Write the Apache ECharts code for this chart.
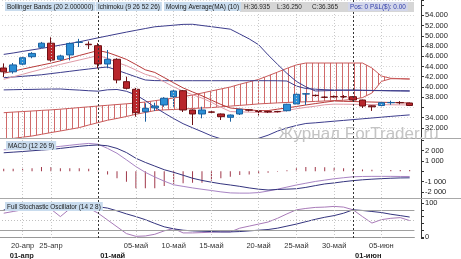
<!DOCTYPE html>
<html><head><meta charset="utf-8">
<script src="https://cdn.jsdelivr.net/npm/echarts@6/dist/echarts.min.js"></script>
<style>html,body{margin:0;padding:0;background:#fff}#c{width:461px;height:259px}</style>
</head><body><div id="c"></div>
<script>
// ---- categories ----
const dates = ['18-апр','19-апр','20-апр','21-апр','24-апр','25-апр','26-апр','27-апр','28-апр','29-апр',
 '01-май','02-май','03-май','04-май','05-май','06-май','08-май','09-май','10-май','11-май','12-май','13-май',
 '15-май','16-май','17-май','18-май','19-май','20-май','22-май','23-май','24-май','25-май','26-май','27-май',
 '29-май','30-май','31-май','01-июн','02-июн','03-июн','05-июн','06-июн','07-июн','08-июн'];
const tickDates = ['20-апр','25-апр','05-май','10-май','15-май','20-май','25-май','30-май','05-июн'];
const monthLabels = {'18-апр':'01-апр','01-май':'01-май','01-июн':'01-июн'};
const monthLines = ['01-май','01-июн'];

// ---- candles ----
const open  = [43.7,42.95,44.45,45.9,47.75,48.55,45.4,46.25,48.7,48.35,48.06,44.48,45.4,41.02,39.53,35.15,35.9,36.46,38.08,39.25,35.48,34.7,35.1,34.7,34.05,34.7,35.5,35.3,35.2,35.2,35.34,36.65,38.6,38.35,38.0,38.1,38.1,38.08,37.43,36.3,36.35,36.9,36.95,36.85];
const close = [42.95,44.3,45.7,46.55,48.55,45.25,46.05,48.5,48.75,48.25,44.48,45.4,41.35,39.72,34.95,35.81,36.25,37.77,39.2,35.48,34.7,35.48,35.05,34.17,34.5,35.62,35.45,35.2,35.1,35.15,36.6,38.55,38.65,38.3,37.95,38.05,38.05,37.43,36.26,36.1,36.91,36.95,36.9,36.365];
const low   = [41.94,42.6,44.2,45.6,47.6,44.93,45.1,45.2,47.8,47.4,43.64,43.64,40.7,39.5,34.17,33.19,35.3,36.1,36.12,35.09,32.54,33.85,34.8,33.52,33.19,34.5,35.2,34.4,34.9,35.0,35.2,36.5,36.46,38.1,37.8,37.9,37.8,37.3,35.87,35.3,36.2,36.5,36.6,36.25];
const high  = [44.6,44.67,45.9,46.8,48.8,49.7,46.3,48.7,49.4,48.9,48.55,47.22,45.6,42.0,39.8,36.79,36.9,38.0,39.5,39.4,35.6,36.12,35.3,34.8,34.6,35.7,35.6,35.5,35.3,35.3,36.7,38.7,38.8,38.5,38.2,38.3,38.4,38.2,37.5,36.4,37.0,37.3,37.2,36.935];

// ---- Bollinger Bands ----
const bbUpper = [46.36,46.63,46.94,47.24,47.53,47.84,48.18,48.49,48.82,49.21,49.6,49.98,50.35,50.72,51.07,51.42,51.76,51.91,52.07,52.23,52.25,52.01,51.78,51.54,51.29,50.35,49.39,48.25,46.26,44.42,42.64,41.07,40.02,39.2,39.25,39.31,39.35,39.39,39.35,39.31,39.29,39.25,39.23,39.2];
const bbMiddle = [41.8,41.93,42.07,42.21,42.37,42.6,42.82,43.05,43.28,43.5,43.72,43.89,43.27,42.62,41.97,41.35,41.23,41.21,41.21,41.21,41.21,41.21,41.21,41.21,41.21,41.21,41.21,41.21,41.21,41.2,41.15,40.17,39.68,39.55,39.45,39.39,39.36,39.33,39.3,39.28,39.26,39.24,39.22,39.2];
const bbLower = [39.41,39.45,39.49,39.51,39.55,39.57,39.59,39.47,39.37,39.25,39.16,39.43,39.49,39.14,38.43,37.32,36.03,34.89,33.8,32.8,32.0,31.23,30.43,29.84,29.41,29.24,29.57,29.94,30.55,31.35,31.96,32.45,32.84,32.97,33.13,33.29,33.44,33.6,33.76,33.91,34.07,34.23,34.38,34.52];

// ---- Ichimoku / MA ----
const tenkan = [42.68,43.07,43.48,43.87,44.26,44.65,45.1,45.61,46.14,46.63,47.12,46.73,46.08,45.38,44.38,43.34,42.83,41.82,40.8,39.8,39.02,38.26,37.41,36.57,35.87,35.69,35.52,35.34,35.36,35.64,35.89,36.16,36.46,36.73,36.99,37.24,37.18,37.14,37.08,37.04,36.99,36.95,36.89,36.85];
const ma10 = [41.48,41.97,42.46,42.97,43.44,43.93,44.4,44.83,45.26,45.69,46.14,45.59,44.77,44.15,43.3,42.46,41.93,41.0,40.0,39.16,38.47,37.81,36.99,36.03,35.17,35.11,35.07,35.01,34.97,35.05,35.38,35.73,35.99,36.22,36.5,36.63,36.61,36.59,36.57,36.53,36.52,36.5,36.48,36.46];
const cloudTop = [34.95,35.07,35.17,35.28,35.4,35.5,35.64,35.79,35.95,36.1,36.26,36.4,36.55,36.69,36.85,37.04,37.3,37.55,37.83,38.1,38.41,38.8,39.2,39.59,39.98,40.51,40.98,41.47,42.17,42.89,43.62,44.3,44.67,44.67,44.67,44.67,44.67,44.67,44.67,43.7,42.13,41.68,41.62,41.54];
const cloudBottom = [29.71,29.92,30.16,30.39,30.72,31.06,31.37,31.7,32.03,32.54,33.01,33.48,33.83,34.21,34.64,34.99,35.36,35.5,35.58,35.67,35.77,35.87,35.95,36.1,36.24,36.38,36.52,36.67,36.77,36.87,36.95,37.04,37.08,37.16,37.24,37.32,37.38,37.57,37.9,38.8,41.07,41.6,41.58,41.54];

// ---- MACD (12 26 9) ----
const macdLine = [2.06,2.1,2.15,2.2,2.25,2.3,2.4,2.5,2.6,2.68,2.6,2.2,1.73,1.1,0.45,-0.1,-0.55,-0.95,-1.3,-1.45,-1.6,-1.73,-1.85,-1.98,-2.08,-2.1,-2.1,-2.05,-1.9,-1.72,-1.52,-1.32,-1.15,-0.98,-0.85,-0.72,-0.62,-0.53,-0.5,-0.49,-0.49,-0.49,-0.5,-0.5];
const signalLine = [1.78,1.84,1.9,1.97,2.04,2.1,2.2,2.3,2.4,2.48,2.53,2.45,2.2,1.8,1.25,0.85,0.5,0.15,-0.1,-0.38,-0.67,-0.88,-1.05,-1.2,-1.32,-1.45,-1.6,-1.72,-1.8,-1.75,-1.72,-1.68,-1.55,-1.38,-1.22,-1.12,-1.0,-0.9,-0.82,-0.76,-0.71,-0.67,-0.64,-0.63];
const macdHist = [0.25,0.25,0.25,0.3,0.4,0.4,0.3,0.3,0.3,0.25,0.05,-0.3,-0.67,-1.0,-1.63,-1.63,-1.63,-1.41,-1.22,-1.15,-1.1,-1.1,-0.9,-0.67,-0.52,-0.35,-0.3,-0.25,-0.15,-0.05,0.1,0.3,0.4,0.4,0.38,0.35,0.3,0.25,0.18,0.15,0.13,0.12,0.12,0.12931];

// ---- Full Stochastic (14 2 8) ----
const stochK = [70,75,80,84,85,82,60,83,88,85,70,50,30,10,2,3,8,18,25,12,12,13,14,15,15,26,32,38,44,55,68,80,84,87,88,90,88,80,60,41,51,55,57,48.34];
const stochD = [80,80,81,82,83,84,82,80,84,87,89,85,77,68,60,51,40,30,24,20,18,17,16,15,15,16,18,20,22,26,32,38,45,52,58,63,70,80,78,75,72,67,63,58.7];

const FONT = 'Liberation Sans';
const NAVY = '#3c3c8c';
const candleData = open.map((o, i) => [o, close[i], low[i], high[i]]);
const bandData = cloudTop.map((t, i) => +(t - cloudBottom[i]).toFixed(4));
const last = a => a[a.length - 1];

// hatch pattern for the Ichimoku cloud
const pc = document.createElement('canvas');
pc.width = 6; pc.height = 4;
const pg = pc.getContext('2d');
pg.fillStyle = '#d06a6a'; pg.fillRect(0, 0, 1, 4);

function vLines() {
  return {
    symbol: 'none', silent: true, animation: false, label: {show: false},
    data: tickDates.map(d => ({xAxis: d, lineStyle: {color: '#c8c8c8', type: [1, 2], width: 1}}))
      .concat(monthLines.map(d => ({xAxis: d, lineStyle: {color: '#333', type: [2, 2], width: 1}})))
  };
}
function valueBox(v, text, rich) {
  return {
    symbol: 'none', silent: true, animation: false,
    lineStyle: {opacity: 0},
    data: [{yAxis: v}],
    label: rich ? {position: 'end', distance: 8, formatter: text, rich: rich} :
      {position: 'end', distance: 8, formatter: text, color: '#fff', backgroundColor: '#000',
       padding: [2, 2, 1, 2], fontSize: 7.5, fontFamily: FONT}
  };
}

const grids = [
  {left: -1, top: 0, width: 415.4, height: 138},
  {left: -1, top: 138, width: 415.4, height: 60},
  {left: -1, top: 198, width: 415.4, height: 40}
].map(g => Object.assign(g, {containLabel: false, outerBoundsMode: 'none', show: false}));

const xBase = idx => ({
  type: 'category', data: dates, gridIndex: idx, boundaryGap: true,
  axisLine: {show: idx === 2, lineStyle: {color: '#999'}},
  axisTick: {show: false}, splitLine: {show: false},
  axisLabel: {show: false}
});
const xAxes = [xBase(0), xBase(1), xBase(2)];
xAxes[2].axisLabel = {
  show: true, interval: (i, v) => tickDates.includes(v), margin: 4, hideOverlap: false,
  fontSize: 7.5, lineHeight: 8, fontFamily: FONT, color: '#333'
};
xAxes.push({
  type: 'category', data: dates, gridIndex: 2, position: 'bottom', offset: 10,
  axisLine: {show: false}, axisTick: {show: false}, splitLine: {show: false},
  axisLabel: {
    show: true, interval: (i, v) => v in monthLabels, margin: 4, align: 'left', hideOverlap: false,
    lineHeight: 8,
    formatter: v => v === dates[0] ? '{p|' + monthLabels[v] + '}' : '{q|' + monthLabels[v] + '}',
    rich: {
      p: {fontSize: 7.5, lineHeight: 8, fontFamily: FONT, fontWeight: 'bold', color: '#222', padding: [0, 0, 0, 6]},
      q: {fontSize: 7.5, lineHeight: 8, fontFamily: FONT, fontWeight: 'bold', color: '#222', padding: [0, 0, 0, 2]}
    }
  }
});

const yCommon = {
  position: 'right', offset: 6.6,
  axisLine: {show: true, lineStyle: {color: '#333'}},
  axisTick: {show: true, length: 3, lineStyle: {color: '#333'}},
};
const yAxes = [
  Object.assign({}, yCommon, {
    type: 'value', gridIndex: 0, min: 30, max: 57, interval: 2, scale: true,
    splitLine: {show: true, lineStyle: {color: '#d8d8d8', type: [1, 2]}},
    axisLabel: {margin: 4, fontSize: 7.5, fontFamily: FONT, color: '#222',
      formatter: v => (v >= 32 && v <= 54 && Math.abs(v % 2) < 1e-9 && v !== 36) ? v.toFixed(3) : ''}
  }),
  Object.assign({}, yCommon, {
    type: 'value', gridIndex: 1, min: -2.57, max: 3.2, splitNumber: 5, scale: true,
    splitLine: {show: false},
    axisLabel: {margin: 4, fontSize: 7.5, fontFamily: FONT, color: '#222',
      formatter: v => { const r = Math.round(v); if (Math.abs(v - r) > 1e-6 || r === 0 || Math.abs(r) > 2) return ''; return (r < 0 ? '-' : '') + Math.abs(r) + ' 000'; }}
  }),
  Object.assign({}, yCommon, {
    type: 'value', gridIndex: 2, min: -2.94, max: 114.7, splitNumber: 5, scale: true,
    splitLine: {show: false},
    axisLabel: {margin: 4, fontSize: 7.5, fontFamily: FONT, color: '#222',
      formatter: v => (Math.abs(v) < 1e-9 || Math.abs(v - 100) < 1e-9) ? String(Math.round(v)) : ''}
  })
];

const line = (name, data, color, xi, extra) => Object.assign({
  name, type: 'line', data, xAxisIndex: xi, yAxisIndex: xi, symbol: 'none', showSymbol: false,
  lineStyle: {color, width: 1}, itemStyle: {color}, animation: false, silent: true, z: 3
}, extra || {});

const series = [
  line('cloudBase', cloudBottom, '#000', 0, {stack: 'cloud', lineStyle: {opacity: 0}, z: 1}),
  line('cloudBand', bandData, '#000', 0, {stack: 'cloud', lineStyle: {opacity: 0}, z: 1,
    areaStyle: {color: {image: pc, repeat: 'repeat'}, opacity: 1}}),
  line('Senkou A', cloudBottom, '#c85a5a', 0, {z: 2}),
  line('Senkou B', cloudTop, '#c85a5a', 0, {z: 2}),
  line('BB Upper', bbUpper, NAVY, 0, {markLine: vLines()}),
  line('BB Middle', bbMiddle, NAVY, 0),
  line('BB Lower', bbLower, NAVY, 0),
  line('Tenkan', tenkan, '#b83a3a', 0),
  line('MA(10)', ma10, '#e09aa6', 0),
  {
    name: 'Price', type: 'candlestick', data: candleData, xAxisIndex: 0, yAxisIndex: 0,
    barWidth: 7, animation: false, silent: true, z: 4,
    itemStyle: {color: '#2b8fd6', color0: '#b8262c', borderColor: '#1a5f9e', borderColor0: '#6e1014', borderWidth: 1},
    markLine: valueBox(last(close), () => '{a|' + last(close).toFixed(3) + '}{g|}{b|}', {
      a: {color: '#000', backgroundColor: '#fff', borderColor: '#000', borderWidth: 1, padding: [2, 2, 1, 2], fontSize: 7.5, fontFamily: FONT},
      g: {width: 2, height: 10},
      b: {backgroundColor: '#d8a8e0', width: 12, height: 12}
    })
  },
  {
    name: 'Histogram', type: 'bar', data: macdHist, xAxisIndex: 1, yAxisIndex: 1, barWidth: 1,
    itemStyle: {color: '#a0384a'}, animation: false, silent: true, z: 2,
    markLine: valueBox(last(macdHist), () => String(last(macdHist)))
  },
  line('MACD', macdLine, '#a884c4', 1, {markLine: vLines()}),
  line('Signal', signalLine, '#34347e', 1),
  line('%K', stochK, '#a87ab8', 2, {
    markLine: {
      symbol: 'none', silent: true, animation: false, label: {show: false},
      data: [
        {yAxis: 80, lineStyle: {color: '#a0a0a0', type: 'solid', width: 1}},
        {yAxis: 20, lineStyle: {color: '#a0a0a0', type: 'solid', width: 1}},
        {yAxis: 50, lineStyle: {color: '#c0c0c0', type: [1, 2], width: 1}}
      ].concat(vLines().data)
    }
  }),
  line('%D', stochD, '#34347e', 2, {markLine: valueBox(last(stochK), () => last(stochK).toFixed(2))})
];

const hdrFont = '6.4px "' + FONT + '"';
const tbox = (x, y, text, fill, bg) => ({
  type: 'text', left: x, top: y, z: 100,
  style: {text, fill: fill || '#1a1a1a', font: hdrFont, backgroundColor: bg || '#c9dcee', padding: [2, 2, 1, 2]}
});

const graphic = [
  {type: 'rect', left: 0, top: 138, shape: {width: 461, height: 1}, style: {fill: '#a8a8a8'}, z: 50, silent: true},
  {type: 'rect', left: 0, top: 198, shape: {width: 461, height: 1}, style: {fill: '#a8a8a8'}, z: 50, silent: true},
  {type: 'rect', left: 240, top: 2, shape: {width: 174, height: 10}, style: {fill: '#d6d6d6'}, z: 99, silent: true},
  tbox(5, 2, 'Bollinger Bands (20 2.000000)'),
  tbox(96, 2, 'Ichimoku (9 26 52 26)'),
  tbox(164, 2, 'Moving Average(MA) (10)'),
  tbox(242, 2, 'H:36.935', '#2a2a2a', 'transparent'),
  tbox(275, 2, 'L:36.250', '#2a2a2a', 'transparent'),
  tbox(310, 2, 'C:36.365', '#2a2a2a', 'transparent'),
  tbox(348, 2, 'Pos: 0 P&L($): 0.00', '#2e3aa8', '#d2d6ea'),
  tbox(6, 141, 'MACD (12 26 9)'),
  tbox(5, 202, 'Full Stochastic Oscillator (14 2 8)'),
  {type: 'text', left: 278, top: 126, z: 120, silent: true,
   style: {text: 'Журнал ForTrader.ru', fill: '#c4c4c4', font: '17px "' + FONT + '"'}}
];

const chart = echarts.init(document.getElementById('c'), null, {renderer: 'canvas'});
chart.setOption({
  animation: false, backgroundColor: '#fff',
  grid: grids, xAxis: xAxes, yAxis: yAxes, series, graphic
});
</script></body></html>
